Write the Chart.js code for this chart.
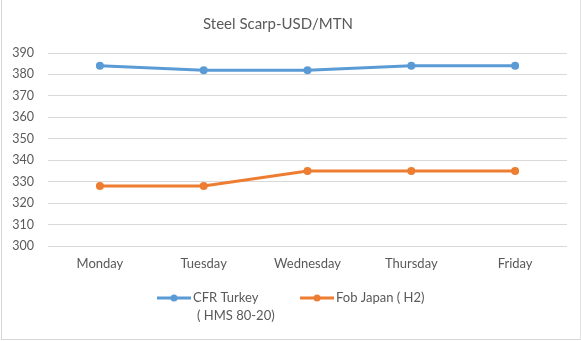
<!DOCTYPE html>
<html>
<head>
<meta charset="utf-8">
<script src="https://cdn.jsdelivr.net/npm/chart.js@4.4.0/dist/chart.umd.min.js"></script>
<style>
    html, body { margin: 0; padding: 0; background: #fff; }
    #wrap { position: relative; width: 581px; height: 341px; }
    #frame {
        position: absolute; left: 1px; top: 0; width: 578px; height: 339px;
        border-left: 1px solid #d6d6d6; border-right: 1px solid #e2e2e2; border-bottom: 1px solid #d6d6d6;
        pointer-events: none;
    }
</style>
</head>
<body>
<div id="wrap">
    <canvas id="chart" width="581" height="341"></canvas>
    <div id="frame"></div>
</div>
<script>
// Data
const days = ['Monday', 'Tuesday', 'Wednesday', 'Thursday', 'Friday'];
const cfrTurkey = [384, 382, 382, 384, 384];
const fobJapan = [328, 328, 335, 335, 335];
const seriesNames = [['CFR Turkey', '( HMS 80-20)'], ['Fob Japan ( H2)']];
const chartTitle = 'Steel Scarp-USD/MTN';

const FONT = 'Lato, "Open Sans", sans-serif';
const TEXT = '#595959';

// title sits a bit left of the canvas center, like the original
const titlePlugin = {
    id: 'excelTitle',
    afterDraw(chart) {
        const ctx = chart.ctx;
        ctx.save();
        ctx.font = '15px ' + FONT;
        ctx.fillStyle = TEXT;
        ctx.textAlign = 'center';
        ctx.textBaseline = 'middle';
        ctx.fillText(chartTitle, 278, 24);
        ctx.restore();
    }
};

// legend: line + dot marker, first name wraps to two lines
const legendPlugin = {
    id: 'excelLegend',
    afterDraw(chart) {
        const ctx = chart.ctx;
        const starts = [157, 300];
        ctx.save();
        ctx.font = '13px ' + FONT;
        ctx.textBaseline = 'middle';
        chart.data.datasets.forEach((ds, i) => {
            const x = starts[i];
            const y = 298;
            ctx.strokeStyle = ds.borderColor;
            ctx.lineWidth = 3;
            ctx.beginPath();
            ctx.moveTo(x, y);
            ctx.lineTo(x + 34, y);
            ctx.stroke();
            ctx.fillStyle = ds.borderColor;
            ctx.beginPath();
            ctx.arc(x + 17, y, 3.5, 0, Math.PI * 2);
            ctx.fill();
            ctx.fillStyle = TEXT;
            seriesNames[i].forEach((line, j) => {
                ctx.fillText(line, x + 36 + (j > 0 ? 4 : 0), y + j * 18);
            });
        });
        ctx.restore();
    }
};

new Chart(document.getElementById('chart'), {
    type: 'line',
    data: {
        labels: days,
        datasets: [{
            label: seriesNames[0].join(' '),
            data: cfrTurkey,
            borderColor: '#5B9BD5',
            backgroundColor: '#5B9BD5',
            borderWidth: 3,
            pointRadius: 4,
            pointBorderWidth: 0,
            tension: 0
        }, {
            label: seriesNames[1].join(' '),
            data: fobJapan,
            borderColor: '#ED7D31',
            backgroundColor: '#ED7D31',
            borderWidth: 3,
            pointRadius: 4,
            pointBorderWidth: 0,
            tension: 0
        }]
    },
    options: {
        responsive: false,
        animation: false,
        layout: { padding: { top: 53, left: 12, right: 14, bottom: 69 } },
        plugins: {
            legend: { display: false },
            title: { display: false },
            tooltip: { enabled: false }
        },
        scales: {
            x: {
                offset: true,
                grid: { display: false, drawTicks: false },
                border: { display: false },
                ticks: { color: TEXT, font: { family: FONT, size: 13 }, padding: 10, maxRotation: 0 },
                afterFit(scale) { scale.height = 26; }
            },
            y: {
                min: 300,
                max: 390,
                grid: { color: '#d9d9d9', lineWidth: 1, drawTicks: false },
                border: { display: false },
                ticks: { stepSize: 10, color: TEXT, font: { family: FONT, size: 12.5 }, padding: 14 },
                afterFit(scale) { scale.width = 36; }
            }
        }
    },
    plugins: [titlePlugin, legendPlugin]
});
</script>
</body>
</html>
